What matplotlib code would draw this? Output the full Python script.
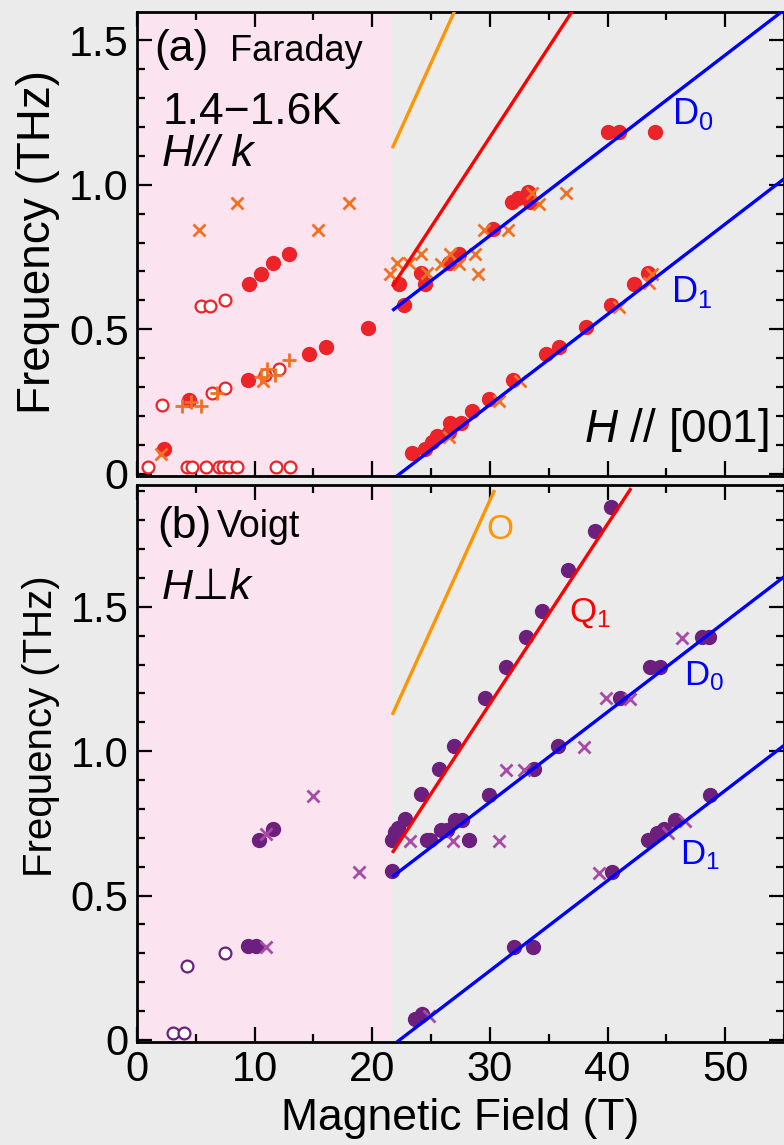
import matplotlib
matplotlib.use("Agg")
import matplotlib.pyplot as plt
from matplotlib.ticker import MultipleLocator

plt.rcParams["font.family"] = ["Liberation Sans", "DejaVu Sans"]
plt.rcParams["mathtext.fontset"] = "custom"
plt.rcParams["mathtext.rm"] = "Liberation Sans"
plt.rcParams["mathtext.it"] = "Liberation Sans:italic"

# === (a) Faraday data: field (T), frequency (THz) ===
a_fill_H = [2.27, 4.45, 9.42, 9.53, 10.55, 11.55, 12.88, 14.58, 16.06, 19.6,
            22.3, 22.67, 24.17, 24.5, 26.5, 27.4, 30.3, 31.9, 32.4, 33.25, 33.4,
            40.0, 41.0, 44.06, 23.4, 24.45, 25.1, 25.5, 26.5, 26.6, 27.5, 28.5,
            29.9, 31.97, 34.8, 35.9, 38.2, 40.26, 42.24, 43.46]
a_fill_f = [0.085, 0.256, 0.324, 0.656, 0.692, 0.728, 0.760, 0.414, 0.438, 0.506,
            0.656, 0.584, 0.694, 0.656, 0.728, 0.760, 0.846, 0.939, 0.953, 0.976, 0.939,
            1.181, 1.181, 1.181, 0.071, 0.086, 0.112, 0.131, 0.146, 0.175, 0.177, 0.218,
            0.258, 0.325, 0.414, 0.440, 0.507, 0.584, 0.656, 0.694]
a_open_H = [0.96, 2.16, 4.23, 4.68, 5.45, 5.87, 6.21, 6.35, 6.95, 7.35, 7.46, 7.49,
            7.86, 8.48, 10.9, 11.83, 12.09, 13.02]
a_open_f = [0.025, 0.238, 0.025, 0.025, 0.581, 0.025, 0.581, 0.281, 0.025, 0.025,
            0.600, 0.298, 0.025, 0.025, 0.343, 0.025, 0.363, 0.025]
a_cross_H = [2.01, 5.3, 8.48, 10.7, 15.35, 18.04, 21.5, 22.1, 23.1, 24.1, 24.66, 25.8,
             26.64, 27.4, 28.7, 29.0, 29.5, 31.5, 33.6, 34.2, 36.5, 26.5, 30.75, 32.6,
             40.96, 43.5, 43.8]
a_cross_f = [0.068, 0.843, 0.936, 0.321, 0.843, 0.936, 0.690, 0.728, 0.728, 0.760, 0.694,
             0.726, 0.760, 0.726, 0.760, 0.690, 0.843, 0.843, 0.972, 0.933, 0.972, 0.127,
             0.253, 0.322, 0.578, 0.659, 0.690]
a_plus_H = [3.8, 4.6, 5.45, 6.84, 10.5, 11.04, 11.74, 12.88]
a_plus_f = [0.236, 0.25, 0.236, 0.281, 0.336, 0.362, 0.342, 0.394]

# === (b) Voigt data ===
b_fill_H = [9.42, 10.1, 10.35, 11.55, 21.67, 21.67, 21.96, 22.2, 22.75, 24.17, 25.65,
            24.65, 24.94, 25.8, 26.36, 27.06, 27.63, 28.2, 29.9, 33.73, 32.03, 33.65,
            23.66, 24.23, 40.34, 43.46, 44.17, 44.8, 45.73, 48.68, 26.98, 29.56, 31.35,
            33.1, 34.4, 36.6, 38.9, 40.26, 35.8, 41.1, 43.6, 44.45, 48.06, 48.6]
b_fill_f = [0.326, 0.326, 0.693, 0.730, 0.586, 0.693, 0.722, 0.733, 0.764, 0.851, 0.940,
            0.693, 0.693, 0.727, 0.727, 0.762, 0.762, 0.693, 0.849, 0.938, 0.323, 0.323,
            0.072, 0.090, 0.583, 0.693, 0.718, 0.730, 0.762, 0.849, 1.019, 1.183, 1.290,
            1.397, 1.486, 1.628, 1.763, 1.845, 1.019, 1.183, 1.290, 1.290, 1.397, 1.397]
b_open_H = [3.03, 4.03, 4.23, 7.52]
b_open_f = [0.025, 0.025, 0.256, 0.300]
b_cross_H = [10.98, 10.98, 14.92, 18.87, 23.2, 26.9, 30.8, 31.4, 32.9, 24.8, 39.3, 45.1,
             46.6, 38.0, 39.9, 41.9, 46.3]
b_cross_f = [0.321, 0.714, 0.845, 0.581, 0.690, 0.690, 0.690, 0.935, 0.935, 0.083, 0.580,
             0.716, 0.760, 1.016, 1.183, 1.180, 1.391]

# === theory lines (end points) ===
line_O_H = [21.7, 30.4]
line_O_f = [1.126, 1.905]
line_Q1_H = [21.7, 42.0]
line_Q1_f = [0.648, 1.911]
line_D0_H = [21.7, 55.0]
line_D0_f = [0.565, 1.604]
line_D1_H = [22.0, 55.0]
line_D1_f = [-0.01, 1.02]

pink_end = 21.7

BG = "#ebebeb"
PINK = "#fbe3ef"
RED = "#ec2328"
ORANGE_X = "#f07124"
PURPLE = "#6d1f7e"
PURPLE_X = "#a84aa8"

fig = plt.figure(figsize=(7.84, 11.45), dpi=100, facecolor=BG)
W, H = 784, 1145
ax1 = fig.add_axes([137 / W, 1 - 476 / H, 647 / W, 464 / H])
ax2 = fig.add_axes([137 / W, 1 - 1042 / H, 647 / W, 557 / H])


def style(ax, ylim, fs):
    ax.set_facecolor(BG)
    ax.axvspan(0, pink_end, color=PINK, lw=0, zorder=0)
    ax.set_xlim(0, 55)
    ax.set_ylim(*ylim)
    ax.xaxis.set_major_locator(MultipleLocator(10))
    ax.xaxis.set_minor_locator(MultipleLocator(5))
    ax.yaxis.set_major_locator(MultipleLocator(0.5))
    ax.yaxis.set_minor_locator(MultipleLocator(0.1))
    ax.tick_params(which="both", direction="in", top=True, right=True, width=1.6,
                   labelsize=fs, pad=6)
    ax.tick_params(which="major", length=11)
    ax.tick_params(which="minor", length=6)
    for s in ax.spines.values():
        s.set_linewidth(2)
    ax.yaxis.set_major_formatter(lambda v, p: "0" if abs(v) < 1e-9 else f"{v:.1f}")


def theory(ax):
    kw = dict(lw=2.4, zorder=5, solid_capstyle="butt")
    ax.plot(line_O_H, line_O_f, color="#ff9500", **kw)
    ax.plot(line_Q1_H, line_Q1_f, color="#ff0000", **kw)
    ax.plot(line_D0_H, line_D0_f, color="#0000ff", **kw)
    ax.plot(line_D1_H, line_D1_f, color="#0000ff", **kw)


# --- panel (a) ---
style(ax1, (-0.007, 1.597), 31)
ax1.tick_params(labelbottom=False)
ax1.plot(a_fill_H, a_fill_f, "o", ms=10, color=RED, mec=RED, zorder=3)
ax1.plot(a_open_H, a_open_f, "o", ms=8.5, mfc="white", mec=RED, mew=1.6, zorder=3)
ax1.plot(a_cross_H, a_cross_f, "x", ms=9, color=ORANGE_X, mew=2, zorder=4)
ax1.plot(a_plus_H, a_plus_f, "+", ms=10, color=ORANGE_X, mew=2, zorder=4)
theory(ax1)

ax1.text(1.5, 1.466, "(a)", fontsize=32, va="center")
ax1.text(7.9, 1.459, "Faraday", fontsize=26, va="center")
ax1.text(2.2, 1.251, "1.4\u22121.6K", fontsize=32, va="center")
ax1.text(2.1, 1.103, "H// k", fontsize=32, va="center", style="italic")
ax1.text(53.7, 0.152, r"$\mathit{H\ //}$ [001]", fontsize=33, va="center", ha="right")
ax1.text(45.5, 1.244, r"D$_0$", fontsize=26, va="center", color="#0000ff")
ax1.text(45.4, 0.629, r"D$_1$", fontsize=26, va="center", color="#0000ff")
ax1.set_ylabel("Frequency (THz)", fontsize=33)
ax1.yaxis.set_label_coords(-0.119, 0.504)

# --- panel (b) ---
style(ax2, (-0.007, 1.922), 30)
ax2.plot(b_fill_H, b_fill_f, "o", ms=10, color=PURPLE, mec=PURPLE, zorder=3)
ax2.plot(b_open_H, b_open_f, "o", ms=8.5, mfc="white", mec=PURPLE, mew=1.6, zorder=3)
ax2.plot(b_cross_H, b_cross_f, "x", ms=8, color=PURPLE_X, mew=2, zorder=4)
theory(ax2)

ax2.text(1.7, 1.777, "(b)", fontsize=32, va="center")
ax2.text(6.8, 1.777, "Voigt", fontsize=27, va="center")
ax2.text(2.1, 1.566, "H\u22a5k", fontsize=31, va="center", style="italic")
ax2.text(29.7, 1.767, "O", fontsize=25, va="center", color="#ff9500")
ax2.text(36.7, 1.479, r"Q$_1$", fontsize=25, va="center", color="#ff0000")
ax2.text(46.5, 1.261, r"D$_0$", fontsize=25, va="center", color="#0000ff")
ax2.text(46.2, 0.641, r"D$_1$", fontsize=25, va="center", color="#0000ff")
ax2.set_ylabel("Frequency (THz)", fontsize=29)
ax2.yaxis.set_label_coords(-0.119, 0.567)
ax2.set_xlabel("Magnetic Field (T)", fontsize=32)
ax2.xaxis.set_label_coords(0.5, -0.1)

fig.savefig("out.png", dpi=100, facecolor=BG)
